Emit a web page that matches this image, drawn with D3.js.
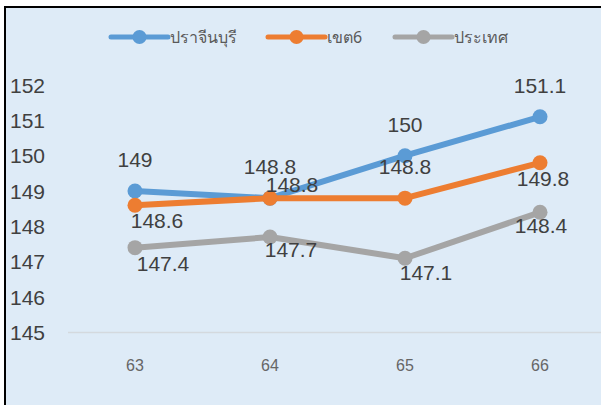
<!DOCTYPE html>
<head>
<meta charset="utf-8">
<title>Line Chart</title>
<script src="https://d3js.org/d3.v7.min.js"></script>
<style>
  body { margin: 0; overflow: hidden; }
</style>
</head>
<body>
  <div id="chart"></div>
</body>
<script>
    // data
    var years = ["63", "64", "65", "66"];
    var prachinburi = [149, 148.8, 150, 151.1];
    var khet6 = [148.6, 148.8, 148.8, 149.8];
    var prathet = [147.4, 147.7, 147.1, 148.4];
    var seriesNames = ["ปราจีนบุรี", "เขต6", "ประเทศ"];
    var yTicks = [145, 146, 147, 148, 149, 150, 151, 152];

    var colors = ["#5B9BD5", "#ED7D31", "#A5A5A5"];
    // where each value label sits, relative to its point
    var labelOffsets = [
      [[0, -32], [0, -32], [0, -31], [0, -31]],
      [[22, 15], [22, -14], [0, -32], [3, 16]],
      [[28, 16], [21, 12], [21, 14], [1, 13]]
    ];

    var width = 601, height = 405;

    var svg = d3.select("#chart")
      .append("svg")
        .attr("width", width)
        .attr("height", height);

    // chart box
    svg.append("rect")
      .attr("x", 5)
      .attr("y", 7)
      .attr("width", 620)
      .attr("height", 420)
      .attr("fill", "#DEEBF7")
      .attr("stroke", "#000")
      .attr("stroke-width", 2);

    let xScale = d3.scaleBand().domain(years).range([67.5, 607.5]);
    let yScale = d3.scaleLinear().domain([145, 152]).range([332.5, 85]);
    let xPos = function(c) { return xScale(c) + xScale.bandwidth() / 2; };

    // baseline at 145
    svg.append("line")
      .attr("x1", 68)
      .attr("x2", 610)
      .attr("y1", yScale(145))
      .attr("y2", yScale(145))
      .attr("stroke", "#D4D9DE")
      .attr("stroke-width", 1.5);

    // y tick labels
    svg.append("g")
      .selectAll("text")
      .data(yTicks)
      .enter().append("text")
        .attr("x", 10)
        .attr("y", function(d) { return yScale(d); })
        .attr("dy", "0.36em")
        .attr("font-family", "Liberation Sans, Arial, sans-serif")
        .attr("font-size", 21)
        .attr("fill", "#404040")
        .text(function(d) { return d; });

    // x tick labels
    svg.append("g")
      .selectAll("text")
      .data(years)
      .enter().append("text")
        .attr("x", function(d) { return xPos(d); })
        .attr("y", 365)
        .attr("dy", "0.36em")
        .attr("text-anchor", "middle")
        .attr("font-family", "Liberation Sans, Arial, sans-serif")
        .attr("font-size", 16)
        .attr("fill", "#666")
        .text(function(d) { return d; });

    let allSeries = [prachinburi, khet6, prathet].map(function(vals, i) {
      return {
        name: seriesNames[i],
        color: colors[i],
        points: vals.map(function(v, j) {
          return { year: years[j], value: v, off: labelOffsets[i][j] };
        })
      };
    });

    let line = d3.line()
      .x(function(d) { return xPos(d.year); })
      .y(function(d) { return yScale(d.value); });

    let seriesG = svg.append("g")
      .selectAll("g")
      .data(allSeries)
      .enter().append("g");

    seriesG.append("path")
      .attr("d", function(d) { return line(d.points); })
      .attr("fill", "none")
      .attr("stroke", function(d) { return d.color; })
      .attr("stroke-width", 6)
      .attr("stroke-linejoin", "round");

    seriesG.selectAll("circle")
      .data(function(d) { return d.points.map(function(p) { p.color = d.color; return p; }); })
      .enter().append("circle")
        .attr("cx", function(d) { return xPos(d.year); })
        .attr("cy", function(d) { return yScale(d.value); })
        .attr("r", 7.5)
        .attr("fill", function(d) { return d.color; });

    // value labels on top of everything
    svg.append("g")
      .selectAll("text")
      .data(allSeries.flatMap(function(s) { return s.points; }))
      .enter().append("text")
        .attr("x", function(d) { return xPos(d.year) + d.off[0]; })
        .attr("y", function(d) { return yScale(d.value) + d.off[1]; })
        .attr("dy", "0.36em")
        .attr("text-anchor", "middle")
        .attr("font-family", "Liberation Sans, Arial, sans-serif")
        .attr("font-size", 21)
        .attr("fill", "#404040")
        .text(function(d) { return d.value; });

    // legend
    var legendX = [111, 268, 395];
    let legend = svg.append("g")
      .selectAll("g")
      .data(allSeries)
      .enter().append("g")
        .attr("transform", function(d, i) { return "translate(" + legendX[i] + ",37)"; });

    legend.append("line")
      .attr("x1", 0)
      .attr("x2", 57)
      .attr("stroke", function(d) { return d.color; })
      .attr("stroke-width", 5)
      .attr("stroke-linecap", "round");

    legend.append("circle")
      .attr("cx", 28.5)
      .attr("r", 7)
      .attr("fill", function(d) { return d.color; });

    legend.append("text")
      .attr("x", 59)
      .attr("dy", "0.36em")
      .attr("font-family", "Noto Sans, Liberation Sans, sans-serif")
      .attr("font-size", 16)
      .attr("fill", "#595959")
      .text(function(d) { return d.name; });
</script>
